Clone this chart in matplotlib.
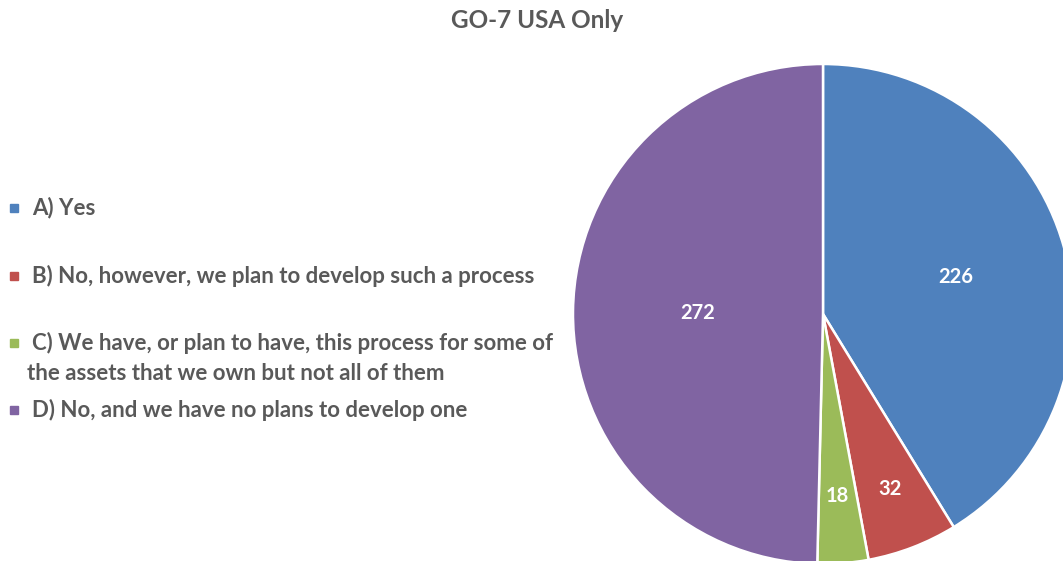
import numpy as np
import matplotlib.pyplot as plt
from matplotlib.patches import Rectangle

# data
labels = ["A) Yes",
          "B) No, however, we plan to develop such a process",
          "C) We have, or plan to have, this process for some of\nthe assets that we own but not all of them",
          "D) No, and we have no plans to develop one"]
counts = [226, 32, 18, 272]
colors = ["#4F81BD", "#C0504D", "#9BBB59", "#8064A2"]
title = "GO-7 USA Only"

plt.rcParams['font.family'] = ['Lato', 'DejaVu Sans']
txt_color = "#595959"

W, H = 1063, 561
fig = plt.figure(figsize=(W / 100, H / 100), dpi=100)

# pie axes placed in pixel coords (it runs slightly off the right/bottom edge)
cx, cy, R = 823, 314, 250
ax = fig.add_axes([(cx - R) / W, (H - cy - R) / H, 2 * R / W, 2 * R / H])
wedges, _ = ax.pie(counts, colors=colors, startangle=90, counterclock=False,
                   radius=1.0, wedgeprops=dict(edgecolor="white", linewidth=1.8))
ax.set_xlim(-1, 1)
ax.set_ylim(-1, 1)
ax.set_aspect("auto")
ax.axis("off")

# value labels, distance from centre per slice (Excel "best fit")
label_dist = [0.55, 0.75, 0.73, 0.50]
for w, v, d in zip(wedges, counts, label_dist):
    ang = np.deg2rad((w.theta1 + w.theta2) / 2)
    ax.text(d * np.cos(ang), d * np.sin(ang), str(v), color="white",
            fontsize=14.5, fontweight="bold", ha="center", va="center")

fig.text(537 / W, 1 - 20 / H, title, ha="center", va="center",
         fontsize=17.5, fontweight="bold", color=txt_color)

# legend drawn by hand (marker sits on the first line of each entry)
leg_y = [208, 276, 343, 410]
fs = 16
for lab, col, y in zip(labels, colors, leg_y):
    fig.patches.append(Rectangle((10 / W, 1 - (y + 4) / H), 8 / W, 8 / H,
                                 transform=fig.transFigure, color=col))
    lines = lab.split("\n")
    fig.text(32 / W, 1 - y / H, lines[0], ha="left", va="center",
             fontsize=fs, fontweight="bold", color=txt_color)
    for k, ln in enumerate(lines[1:], start=1):
        fig.text(27 / W, 1 - (y + 30 * k) / H, ln, ha="left", va="center",
                 fontsize=fs, fontweight="bold", color=txt_color)

fig.savefig("out.png", dpi=100)
